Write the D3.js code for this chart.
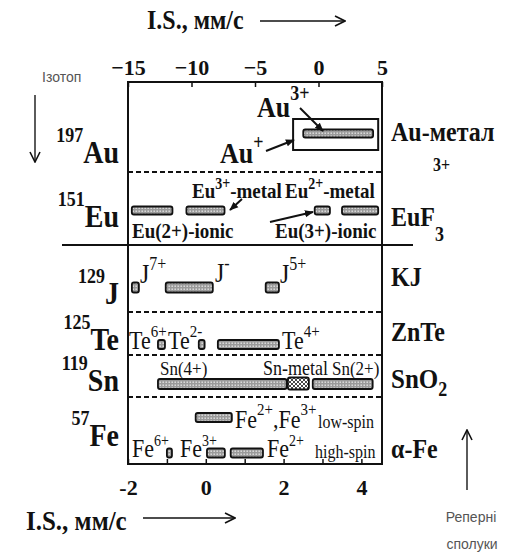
<!DOCTYPE html>
<html>
<head>
<meta charset="utf-8">
<script src="https://cdn.jsdelivr.net/npm/d3@7"></script>
<style>
  html, body { margin: 0; padding: 0; background: #fff; }
  svg { display: block; }
  .serif { font-family: "Liberation Serif", "Times New Roman", "DejaVu Serif", serif; }
  .sans { font-family: "Liberation Sans", Arial, "DejaVu Sans", sans-serif; }
</style>
</head>
<body>
<svg id="chart" width="506" height="553"></svg>
<script>
// ----------------------------
// Data (isomer shift ranges, mm/s)
// ----------------------------
const topTicks = [-15, -10, -5, 0, 5];
const bottomTicks = [-2, -1, 0, 1, 2, 3, 4];
const bottomTickLabels = [-2, 0, 2, 4];

const isotopeMass = ["197", "151", "129", "125", "119", "57"];
const isotopeElement = ["Au", "Eu", "J", "Te", "Sn", "Fe"];
const referenceNames = ["Au-метал", "EuF", "KJ", "ZnTe", "SnO", "α-Fe"];

// upper scale (-15..5)
const auRanges = [[-1.2, 4.3]];
const auMetalBox = [[-2.0, 4.7]];
const euRanges = [[-14.7, -11.5], [-10.4, -7.4], [-0.3, 0.9], [1.85, 4.7]];

// lower scale (-2..4.5)
const jRanges = [[-1.9, -1.72], [-1.03, 0.18], [1.54, 1.88]];
const teRanges = [[-1.23, -1.05], [-0.18, -0.03], [0.31, 1.88]];
const snRanges = [[-1.23, 2.08], [2.75, 4.29]];
const snMetal = [[2.11, 2.65]];
const feLowSpin = [[-0.26, 0.67]];
const feHighSpin = [[-1.0, -0.87], [0.03, 0.49], [0.64, 1.47]];

// ----------------------------
// Layout
// ----------------------------
const frame = {left: 128, right: 382, top: 82, bottom: 464};
const dashedY = [172, 312, 355, 397];
const solidY = 245;
const isoBaseline = [163, 227, 304, 350, 391, 446];
const refBaseline = [141, 226, 286, 341, 388, 458];
const stretch = 1.12;   // the scanned lettering is a bit taller than wide

const svg = d3.select("#chart");

const xTop = d3.scaleLinear().domain([-15, 5]).range([frame.left, frame.right]);
const xBot = d3.scaleLinear().domain([-2, 4.53]).range([frame.left, frame.right]);

// ----------------------------
// Patterns and markers
// ----------------------------
const defs = svg.append("defs");

const dots = defs.append("pattern").attr("id", "dots")
    .attr("width", 3).attr("height", 3).attr("patternUnits", "userSpaceOnUse");
dots.append("rect").attr("width", 3).attr("height", 3).attr("fill", "#9a9a9a");
dots.append("rect").attr("x", 0.5).attr("y", 0.5).attr("width", 1.4).attr("height", 1.4).attr("fill", "#e6e6e6");

const hatch = defs.append("pattern").attr("id", "hatch")
    .attr("width", 4).attr("height", 4).attr("patternUnits", "userSpaceOnUse");
hatch.append("rect").attr("width", 4).attr("height", 4).attr("fill", "#fff");
hatch.append("path").attr("d", "M0,0L4,4M4,0L0,4").attr("stroke", "#333").attr("stroke-width", 0.9);

defs.append("marker").attr("id", "open")
    .attr("viewBox", "0 0 12 12").attr("refX", 11).attr("refY", 6)
    .attr("markerWidth", 12).attr("markerHeight", 12)
    .attr("markerUnits", "userSpaceOnUse").attr("orient", "auto")
  .append("path").attr("d", "M1,1L11,6L1,11").attr("fill", "none")
    .attr("stroke", "#111").attr("stroke-width", 1.6);

defs.append("marker").attr("id", "solid")
    .attr("viewBox", "0 0 10 10").attr("refX", 9).attr("refY", 5)
    .attr("markerWidth", 9).attr("markerHeight", 9)
    .attr("markerUnits", "userSpaceOnUse").attr("orient", "auto")
  .append("path").attr("d", "M0,1L10,5L0,9Z").attr("fill", "#111");

// ----------------------------
// Rich text helper (superscripts / subscripts)
// ----------------------------
function rich(x, y, parts, size, opts) {
    opts = opts || {};
    const sy = opts.sans ? 1 : stretch;
    const t = svg.append("text")
        .attr("class", opts.sans ? "sans" : "serif")
        .attr("transform", `translate(${x},${y}) scale(1,${sy})`)
        .attr("font-size", size)
        .attr("font-weight", opts.weight || "bold")
        .attr("fill", opts.fill || "#111")
        .attr("text-anchor", opts.anchor || "start");
    let shift = 0;
    parts.forEach(p => {
        const s = typeof p === "string" ? p : p[0];
        const kind = typeof p === "string" ? "" : p[1];
        let target = 0, fs = size;
        if (kind === "sup") { target = -(opts.up || size * 0.55) / sy; fs = opts.small || size * 0.65; }
        if (kind === "sub") { target = (opts.down || size * 0.35) / sy; fs = opts.small || size * 0.65; }
        t.append("tspan").attr("dy", target - shift).attr("font-size", fs).text(s);
        shift = target;
    });
    return t;
}

// ----------------------------
// Frame, separators
// ----------------------------
svg.append("rect")
    .attr("x", frame.left).attr("y", frame.top)
    .attr("width", frame.right - frame.left).attr("height", frame.bottom - frame.top)
    .attr("fill", "none").attr("stroke", "#111").attr("stroke-width", 2);

svg.selectAll(".dash").data(dashedY).join("line")
    .attr("x1", frame.left).attr("x2", frame.right)
    .attr("y1", d => d).attr("y2", d => d)
    .attr("stroke", "#111").attr("stroke-width", 2).attr("stroke-dasharray", "5,3");

svg.append("line")
    .attr("x1", 62).attr("x2", 413).attr("y1", solidY).attr("y2", solidY)
    .attr("stroke", "#111").attr("stroke-width", 2);

// ----------------------------
// Axes
// ----------------------------
const topAxis = d3.axisTop(xTop).tickValues(topTicks)
    .tickSizeInner(-5).tickSizeOuter(0).tickPadding(7).tickFormat(d3.format("d"));
const gTop = svg.append("g").attr("transform", `translate(0,${frame.top})`).call(topAxis);

const bottomAxis = d3.axisBottom(xBot).tickValues(bottomTicks)
    .tickSizeInner(-5).tickSizeOuter(0).tickPadding(15)
    .tickFormat(d => bottomTickLabels.includes(d) ? d : "");
const gBot = svg.append("g").attr("transform", `translate(0,${frame.bottom})`).call(bottomAxis);

[gTop, gBot].forEach(g => {
    g.attr("font-family", null);
    g.select(".domain").remove();
    g.selectAll(".tick line").attr("stroke", "#111").attr("stroke-width", 1.5);
    g.selectAll(".tick text").attr("fill", "#111").attr("class", "serif")
        .attr("font-weight", "bold");
});
gTop.selectAll(".tick text").attr("font-size", 22);
gBot.selectAll(".tick text").attr("font-size", 22);

// Axis titles with arrows
rich(147, 29, ["I.S., мм/с"], 24);
svg.append("line").attr("x1", 260).attr("x2", 345).attr("y1", 21).attr("y2", 21)
    .attr("stroke", "#111").attr("stroke-width", 1.6).attr("marker-end", "url(#open)");

rich(26, 530, ["I.S., мм/с"], 25);
svg.append("line").attr("x1", 143).attr("x2", 235).attr("y1", 518).attr("y2", 518)
    .attr("stroke", "#111").attr("stroke-width", 1.6).attr("marker-end", "url(#open)");

// ----------------------------
// Bars
// ----------------------------
const lanes = [
    {data: auRanges, x: xTop, y: 133.5, h: 8, fill: "url(#dots)"},
    {data: euRanges, x: xTop, y: 210.5, h: 8, fill: "url(#dots)"},
    {data: jRanges, x: xBot, y: 287.5, h: 10, fill: "url(#dots)"},
    {data: teRanges, x: xBot, y: 344.5, h: 9, fill: "url(#dots)"},
    {data: snRanges, x: xBot, y: 384, h: 10, fill: "url(#dots)"},
    {data: snMetal, x: xBot, y: 383.5, h: 12, fill: "url(#hatch)"},
    {data: feLowSpin, x: xBot, y: 417.5, h: 9, fill: "url(#dots)"},
    {data: feHighSpin, x: xBot, y: 453, h: 9, fill: "url(#dots)"}
];

lanes.forEach(lane => {
    svg.append("g").selectAll("rect").data(lane.data).join("rect")
        .attr("x", d => lane.x(d[0]))
        .attr("width", d => lane.x(d[1]) - lane.x(d[0]))
        .attr("y", lane.y - lane.h / 2)
        .attr("height", lane.h)
        .attr("rx", 2)
        .attr("fill", lane.fill)
        .attr("stroke", "#111").attr("stroke-width", 1.8);
});

// Au-metal reference box
svg.append("g").selectAll("rect").data(auMetalBox).join("rect")
    .attr("x", d => xTop(d[0])).attr("width", d => xTop(d[1]) - xTop(d[0]))
    .attr("y", 119).attr("height", 31)
    .attr("fill", "none").attr("stroke", "#111").attr("stroke-width", 2);

// ----------------------------
// Isotope labels (left) and reference compounds (right)
// ----------------------------
isotopeElement.forEach((el, i) => {
    rich(119, isoBaseline[i], [[isotopeMass[i], "sup"], el], 28,
        {anchor: "end", up: 21, small: 18});
});

rich(391, refBaseline[0], [referenceNames[0]], 24);
rich(433, 171, ["3+"], 16);
rich(391, refBaseline[1], [referenceNames[1], ["3", "sub"]], 24, {down: 15, small: 18});
rich(391, refBaseline[2], [referenceNames[2]], 24);
rich(391, refBaseline[3], [referenceNames[3]], 24);
rich(391, refBaseline[4], [referenceNames[4], ["2", "sub"]], 25, {down: 8, small: 18});
rich(391, refBaseline[5], [referenceNames[5]], 24);

// ----------------------------
// Annotations inside the plot
// ----------------------------
rich(257, 117, ["Au", ["3+", "sup"]], 26, {up: 17, small: 18});
rich(220, 163, ["Au", ["+", "sup"]], 26, {up: 14, small: 18});

rich(192, 198, ["Eu", ["3+", "sup"], "-metal"], 19, {up: 9, small: 14});
rich(285, 198, ["Eu", ["2+", "sup"], "-metal"], 19, {up: 9, small: 14});
rich(132, 238, ["Eu(2+)-ionic"], 19);
rich(275, 238, ["Eu(3+)-ionic"], 19);

rich(140, 283, ["J", ["7+", "sup"]], 24, {weight: "normal", up: 13, small: 16});
rich(215, 282, ["J", ["-", "sup"]], 24, {weight: "normal", up: 13, small: 16});
rich(280, 283, ["J", ["5+", "sup"]], 24, {weight: "normal", up: 13, small: 16});

rich(129, 349, ["Te", ["6+", "sup"]], 22, {weight: "normal", up: 12, small: 15});
rich(168, 349, ["Te", ["2-", "sup"]], 22, {weight: "normal", up: 12, small: 15});
rich(282, 349, ["Te", ["4+", "sup"]], 22, {weight: "normal", up: 12, small: 15});

rich(160, 375, ["Sn(4+)"], 17, {weight: "normal"});
rich(263, 375, ["Sn-metal"], 18, {weight: "normal"});
rich(332, 375, ["Sn(2+)"], 17, {weight: "normal"});

rich(235, 428, ["Fe", ["2+", "sup"], ",Fe", ["3+", "sup"]], 22, {weight: "normal", up: 13, small: 15});
rich(318, 428, ["low-spin"], 16, {weight: "normal"});
rich(132, 457, ["Fe", ["6+", "sup"]], 22, {weight: "normal", up: 11, small: 14});
rich(180, 457, ["Fe", ["3+", "sup"]], 22, {weight: "normal", up: 11, small: 14});
rich(267, 457, ["Fe", ["2+", "sup"]], 22, {weight: "normal", up: 11, small: 14});
rich(315, 458, ["high-spin"], 16, {weight: "normal"});

// annotation arrows
const pointers = [
    [300, 108, 323, 131],
    [266, 151, 294, 140],
    [242, 199, 230, 210],
    [270, 222, 313, 212]
];
svg.selectAll(".ptr").data(pointers).join("line")
    .attr("x1", d => d[0]).attr("y1", d => d[1])
    .attr("x2", d => d[2]).attr("y2", d => d[3])
    .attr("stroke", "#111").attr("stroke-width", 2)
    .attr("marker-end", "url(#solid)");

// ----------------------------
// Side captions
// ----------------------------
rich(42, 82, ["Ізотоп"], 14, {sans: true, weight: "normal", fill: "#555"});
svg.append("line").attr("x1", 35).attr("x2", 35).attr("y1", 95).attr("y2", 162)
    .attr("stroke", "#333").attr("stroke-width", 1.6).attr("marker-end", "url(#open)");

svg.append("line").attr("x1", 467).attr("x2", 467).attr("y1", 490).attr("y2", 430)
    .attr("stroke", "#333").attr("stroke-width", 1.6).attr("marker-end", "url(#open)");
rich(471, 522, ["Реперні"], 14, {sans: true, weight: "normal", fill: "#555", anchor: "middle"});
rich(472, 549, ["сполуки"], 14, {sans: true, weight: "normal", fill: "#555", anchor: "middle"});
</script>
</body>
</html>
